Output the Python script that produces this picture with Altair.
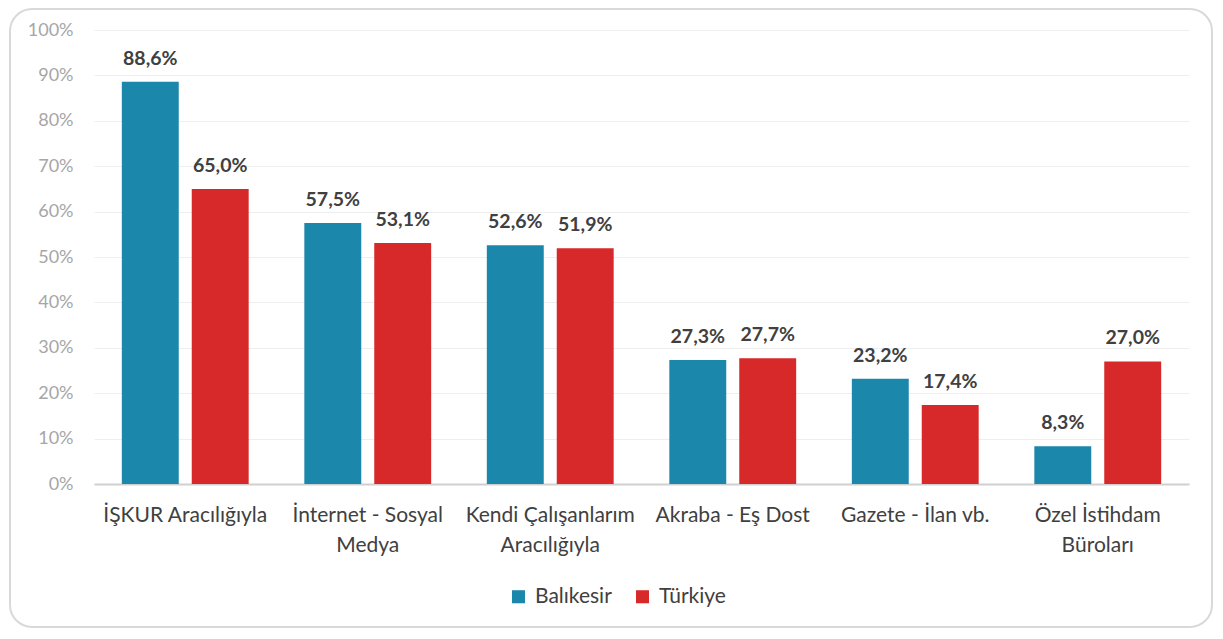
import altair as alt
import pandas as pd

categories = ["İŞKUR Aracılığıyla", "İnternet - Sosyal|Medya", "Kendi Çalışanlarım|Aracılığıyla",
              "Akraba - Eş Dost", "Gazete - İlan vb.", "Özel İstihdam|Büroları"]
series = ["Balıkesir", "Türkiye"]
balikesir = [88.6, 57.5, 52.6, 27.3, 23.2, 8.3]
turkiye = [65.0, 53.1, 51.9, 27.7, 17.4, 27.0]
colors = ["#1b87ab", "#d7282a"]

rows = []
for cat, b, t in zip(categories, balikesir, turkiye):
    for s, v in zip(series, [b, t]):
        rows.append({"cat": cat, "series": s, "value": v,
                     "label": f"{v:.1f}".replace(".", ",") + "%"})
df = pd.DataFrame(rows)

FONT = "Lato"
W, H = 1095, 454

x = alt.X("cat:N", sort=categories, title=None,
          scale=alt.Scale(paddingInner=0.305, paddingOuter=0.1525),
          axis=alt.Axis(labelExpr="split(datum.label, '|')", labelAngle=0,
                        labelFontSize=21, labelColor="#404040", labelFont=FONT,
                        labelLineHeight=30, labelPadding=20, labelBaseline="top",
                        ticks=False, domainColor="#d0d0d0", domainWidth=2, grid=False))
xo = alt.XOffset("series:N", sort=series, scale=alt.Scale(paddingInner=0.186))
y = alt.Y("value:Q", title=None,
          scale=alt.Scale(domain=[0, 100], nice=False),
          axis=alt.Axis(values=list(range(0, 101, 10)), labelExpr="datum.value + '%'",
                        labelFontSize=18, labelColor="#a6a6a6", labelFont=FONT,
                        labelPadding=21, ticks=False, domain=False,
                        gridColor="#eeeeee", gridWidth=1))

base = alt.Chart(df)
bars = base.mark_bar().encode(
    x=x, xOffset=xo, y=y,
    color=alt.Color("series:N", sort=series, title=None,
                    scale=alt.Scale(domain=series, range=colors),
                    legend=alt.Legend(orient="none", legendX=414, legendY=556,
                                      direction="horizontal", symbolType="square",
                                      symbolSize=170, symbolStrokeWidth=0,
                                      labelFontSize=21, labelColor="#404040", labelFont=FONT,
                                      columnPadding=20, labelOffset=6)),
)
texts = base.mark_text(fontSize=19.5, fontWeight="bold", color="#404040", font=FONT,
                       baseline="alphabetic", dy=-17).encode(
    x=x, xOffset=xo, y=y, text="label:N")

border = alt.Chart(pd.DataFrame({"a": [0]})).mark_rect(
    fill=None, stroke="#d9d9d9", strokeWidth=2, cornerRadius=22, clip=False
).encode(x=alt.value(-84), x2=alt.value(1118), y=alt.value(-21), y2=alt.value(597))

chart = alt.layer(border, bars, texts).properties(
    width=W, height=H,
    autosize=alt.AutoSizeParams(type="none"),
    padding={"left": 86, "top": 22, "right": 26, "bottom": 144},
    background="white",
).configure_view(stroke=None)

chart.save("out.html", embed_options={"renderer": "svg", "actions": False})
